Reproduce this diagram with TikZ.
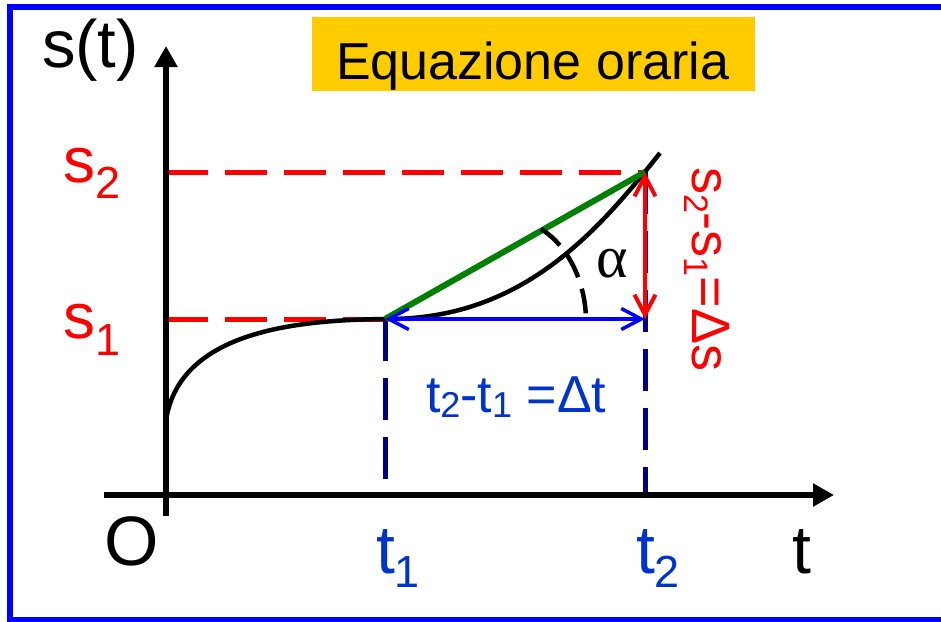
\documentclass[tikz,border=0pt]{standalone}
\usepackage{fontspec}
\setmainfont{Liberation Sans}
\newfontfamily\grk{Liberation Serif}
\usetikzlibrary{arrows.meta}
\definecolor{myred}{RGB}{255,0,0}
\definecolor{tblue}{RGB}{0,51,204}
\definecolor{navyd}{RGB}{0,0,128}
\definecolor{myblue}{RGB}{0,0,255}
\definecolor{mygreen}{RGB}{0,128,0}
\definecolor{ttl}{RGB}{255,204,0}
\newcommand\fsz[1]{\fontsize{#1}{#1}\selectfont}
\newcommand\lowsub[3]{\raisebox{-#2pt}{\fsz{#1}#3}}
\begin{document}
\begin{tikzpicture}[x=1pt,y=-1pt,
  lbl/.style={inner sep=0pt, outer sep=0pt, anchor=base west},
  frameline/.style={myblue, line width=5.5pt},
  axisline/.style={line width=5.5pt, -{Triangle[length=21pt,width=22pt]}},
  reddash/.style={myred, line width=5pt, dash pattern=on 42pt off 17pt},
  navydash/.style={navyd, line width=5pt, dash pattern=on 42pt off 17pt},
  curveline/.style={black, line width=4.5pt},
  greenline/.style={mygreen, line width=6pt},
  barbs/.style={{Straight Barb[length=20pt,width=21pt]}-{Straight Barb[length=20pt,width=21pt]}},
  anglearc/.style={black, line width=4.5pt, dash pattern=on 25pt off 12pt}
]
\useasboundingbox (0,0) rectangle (941,621);
\fill[white] (0,0) rectangle (941,621);
% frame: left, top and bottom sides only
\draw[frameline] (10,4.25) -- (10,622);
\draw[frameline] (7.25,7) -- (941,7);
\draw[frameline] (7.25,620) -- (941,620);
% coordinates
\coordinate (O) at (166,495);
\coordinate (P1) at (385,319);
\coordinate (P2) at (645,172);
\coordinate (Q2) at (645,319);
\coordinate (S1) at (166,319);
\coordinate (S2) at (166,172);
\coordinate (T1) at (385,495);
\coordinate (T2) at (645,495);
\coordinate (C0) at (166,420);
\coordinate (C3) at (660,153);
\coordinate (Ytop) at (166,46);
\coordinate (Ybot) at (166,516);
\coordinate (Xl) at (104,495);
\coordinate (Xr) at (834,495);
\coordinate (A1) at (541,229);
\coordinate (A2) at (586,321);
% title
\node[fill=ttl, minimum width=443pt, minimum height=74pt, anchor=north west, inner sep=0pt] (tbox) at (312,17) {};
\node[lbl] (ttext) at (336,79) {\fsz{52}Equazione oraria};
% dashed guides
\draw[navydash] (P1) -- (T1);
\draw[navydash] (P2) -- (T2);
\draw[reddash] (S2) -- (P2);
\draw[reddash] (S1) -- (P1);
% axes
\draw[axisline] (Ybot) -- (Ytop);
\draw[axisline] (Xl) -- (Xr);
% curve
\draw[curveline] (C0) .. controls (180,330) and (300,320) .. (P1)
   .. controls (520,320) and (595,235) .. (C3);
% secant
\draw[greenline] (P1) -- (P2);
% delta arrows
\draw[myblue, line width=3.5pt, barbs] (P1) -- (Q2);
\draw[myred, line width=4pt, barbs] (P2) -- (Q2);
% angle
\draw[anglearc] (A1) .. controls (570,247) and (586,285) .. (A2);
\node (alpha) at (612,264) {\grk\fsz{60}α};
% labels
\node[lbl] (st) at (42,67) {\fsz{67}s(t)};
\node[lbl, text=myred] (s2) at (63,182) {\fsz{64}s\lowsub{45}{16}{2}};
\node[lbl, text=myred] (s1) at (63,338) {\fsz{64}s\lowsub{45}{17}{1}};
\node[lbl] (olbl) at (104,565) {\fsz{70}O};
\node[lbl, text=tblue] (t1) at (376,573) {\fsz{68}t\lowsub{45}{14}{1}};
\node[lbl, text=tblue] (t2) at (636,573) {\fsz{68}t\lowsub{45}{14}{2}};
\node[lbl] (tax) at (792,573) {\fsz{68}t};
\node[lbl, text=tblue] (dt) at (426,412) {\fsz{52}t\lowsub{36}{5}{2}-t\lowsub{36}{5}{1} =Δt};
\node[lbl, text=myred, rotate=-90] (ds) at (692,167) {\fsz{54}s\lowsub{34}{8}{2}-s\lowsub{34}{8}{1}=Δs};
\end{tikzpicture}
\end{document}
